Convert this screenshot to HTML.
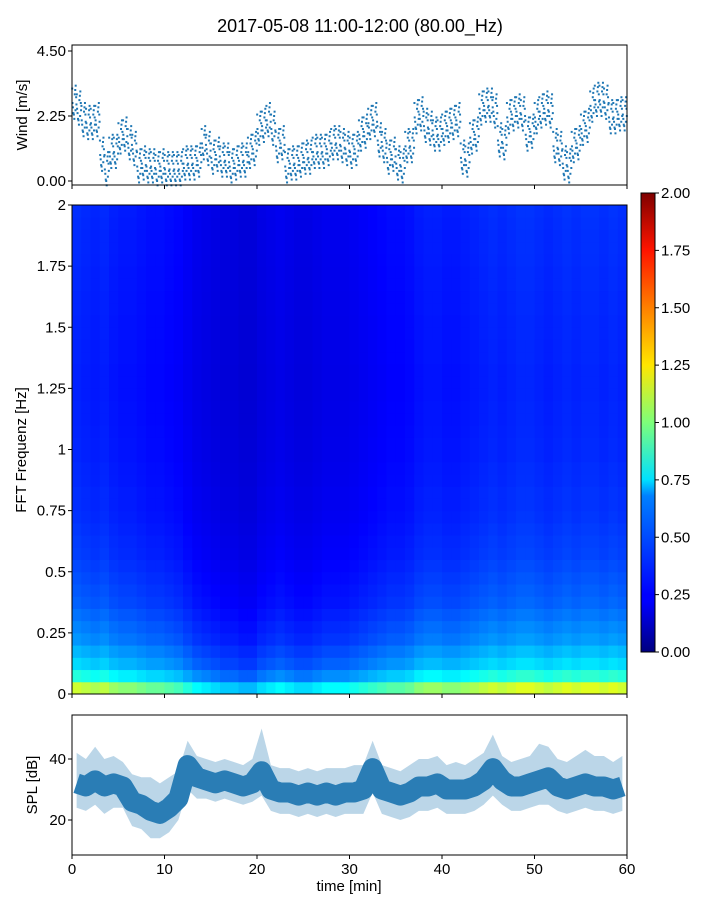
<!DOCTYPE html>
<html><head><meta charset="utf-8">
<style>
body{margin:0;background:#fff;font-family:"Liberation Sans",sans-serif;}
svg text{font-family:"Liberation Sans",sans-serif;fill:#000;}
</style></head>
<body>
<svg id="chart" width="720" height="900" xmlns="http://www.w3.org/2000/svg">
<defs>
<linearGradient id="jet" x1="0" y1="1" x2="0" y2="0">
<stop offset="0" stop-color="#00007f"/><stop offset="0.11" stop-color="#0000ff"/>
<stop offset="0.125" stop-color="#0000ff"/><stop offset="0.34" stop-color="#0080ff"/>
<stop offset="0.375" stop-color="#00e0ff"/><stop offset="0.5" stop-color="#7dff7a"/>
<stop offset="0.625" stop-color="#ffe600"/><stop offset="0.75" stop-color="#ff8000"/>
<stop offset="0.875" stop-color="#ff1400"/><stop offset="1" stop-color="#7f0000"/>
</linearGradient>
</defs>
<text x="360" y="32" font-size="18" text-anchor="middle">2017-05-08 11:00-12:00 (80.00_Hz)</text>
<g id="wind"></g>
<g id="spec"></g>
<g id="cbar"></g>
<g id="spl"></g>
</svg>
<script>
const windMinutes = 60;
const windValues = [2.7,2.5,2.1,2.0,2.0,2.1,0.9,0.4,1.0,1.0,1.5,1.6,1.3,1.1,0.5,0.6,0.5,0.5,0.4,0.5,0.4,0.4,0.4,0.4,0.6,0.6,0.6,0.7,1.3,1.1,0.8,0.9,0.7,0.7,0.5,0.6,0.7,0.7,1.0,1.1,1.8,1.9,2.1,1.8,1.2,1.3,0.5,0.6,0.6,0.7,0.8,0.8,1.0,1.0,1.0,1.1,1.3,1.3,1.2,1.1,1.0,1.1,1.6,1.7,2.0,2.1,1.4,1.2,0.8,0.9,0.6,0.5,1.2,1.2,2.2,2.3,1.9,1.8,1.6,1.6,1.8,1.9,2.0,2.1,0.8,0.7,1.5,1.6,2.5,2.6,2.6,2.4,1.4,1.3,2.2,2.3,2.4,2.3,1.6,1.7,2.2,2.4,2.5,2.4,1.2,1.1,0.6,0.5,1.2,1.3,1.8,1.9,2.6,2.8,2.8,2.7,2.2,2.2,2.3,2.3];
const windTicks = [0, 2.25, 4.5];
const windTickLabels = ["0.00","2.25","4.50"];
const specColumns = [0.34,0.33,0.32,0.33,0.31,0.30,0.30,0.29,0.28,0.28,0.27,0.26,0.24,0.22,0.21,0.20,0.19,0.19,0.18,0.18,0.20,0.21,0.22,0.21,0.20,0.20,0.21,0.22,0.22,0.22,0.23,0.24,0.25,0.26,0.27,0.27,0.28,0.30,0.31,0.31,0.30,0.30,0.31,0.32,0.33,0.34,0.33,0.34,0.35,0.35,0.34,0.33,0.34,0.35,0.34,0.35,0.35,0.34,0.35,0.34];
const specRowProfile = [3.4,2.4,2.0,1.8,1.6,1.5,1.4,1.3,1.25,1.2,1.15,1.1,1.08,1.05,1.02,1.0,1.0,0.98,0.97,0.95,0.95,0.94,0.93,0.93,0.92,0.92,0.92,0.93,0.93,0.94,0.94,0.95,0.95,0.96,0.96,0.97,0.98,0.98,0.99,1.0];
const specTicks = [0,0.25,0.5,0.75,1,1.25,1.5,1.75,2];
const specTickLabels = ["0","0.25","0.5","0.75","1","1.25","1.5","1.75","2"];
const cbarTicks = [0,0.25,0.5,0.75,1,1.25,1.5,1.75,2];
const cbarTickLabels = ["0.00","0.25","0.50","0.75","1.00","1.25","1.50","1.75","2.00"];
const splMean = [32,31,33,31,32,31,26,25,23,22,24,27,38,34,33,32,33,32,31,32,36,30,29,29,28,29,28,29,28,29,29,30,37,30,29,28,29,31,31,32,30,30,30,31,33,37,33,31,31,32,33,34,31,30,31,32,31,31,30,31];
const splLow = [24,23,25,22,24,24,18,17,14,14,16,20,30,27,27,26,27,26,25,26,28,23,22,22,21,22,21,22,21,22,22,22,29,22,21,20,21,23,23,24,22,22,22,23,25,28,25,23,23,24,25,25,23,22,23,24,23,23,22,23];
const splHigh = [42,40,44,40,41,39,35,34,34,32,34,36,46,41,40,39,40,39,38,40,50,38,37,37,36,37,36,37,37,37,38,38,46,38,37,36,38,40,40,41,38,39,38,40,42,48,41,39,40,41,45,44,40,39,41,43,41,41,39,41];
const splTicks = [20,40];
const xTicks = [0,10,20,30,40,50,60];

const NS="http://www.w3.org/2000/svg";
function mk(tag,attrs,parent){const e=document.createElementNS(NS,tag);for(const k in attrs)e.setAttribute(k,attrs[k]);parent.appendChild(e);return e;}
const X0=72,X1=627;
const xs=t=>X0+(X1-X0)*t/60;
function jet(v){v=Math.max(0,Math.min(1,v));
 const r=Math.max(0,Math.min(1,1.5-Math.abs(4*v-3))),g=Math.max(0,Math.min(1,1.5-Math.abs(4*v-2))),b=Math.max(0,Math.min(1,1.5-Math.abs(4*v-1)));
 return `rgb(${Math.round(r*255)},${Math.round(g*255)},${Math.round(b*255)})`;}

// Wind panel
const W=document.getElementById('wind');
const wy=v=>181-(181-51)*v/4.5;
const jx=[0.05,0.35,0.15,0.45,0.25,0.4,0.1,0.3,0.2,0.48,0.02,0.38];
const jy=[0.0,0.45,-0.35,0.2,-0.55,0.6,-0.15,0.3,-0.4,-0.05,0.5,-0.25];
for(let i=0;i<windValues.length;i++){
 const t=i*windMinutes/windValues.length;
 for(let k=0;k<jx.length;k++){
  const p=mk('rect',{x:xs(t+jx[k])-1,y:wy(windValues[i]+jy[k])-1,width:2,height:2,fill:'#1f77b4'},W);
  
  
 }
}
mk('rect',{x:X0,y:45,width:X1-X0,height:140,fill:'none',stroke:'#000','stroke-width':1},W);
windTicks.forEach((v,i)=>{mk('line',{x1:X0-4,x2:X0,y1:wy(v),y2:wy(v),stroke:'#000'},W);
 const t=mk('text',{x:X0-6,y:wy(v)+5,'font-size':15,'text-anchor':'end'},W);t.textContent=windTickLabels[i];
 });
xTicks.forEach(v=>mk('line',{x1:xs(v),x2:xs(v),y1:185,y2:189,stroke:'#000'},W));
{const t=mk('text',{x:27,y:115,'font-size':15,'text-anchor':'middle',transform:'rotate(-90 27 115)'},W);t.textContent='Wind [m/s]';}

// Spectrogram
const S=document.getElementById('spec');
const SY0=694,SY1=205;
const sy=f=>SY0-(SY0-SY1)*f/2;
const nr=specRowProfile.length,nc=specColumns.length;
for(let c=0;c<nc;c++)for(let r=0;r<nr;r++){
 const v=specColumns[c]*specRowProfile[r];
 const x=xs(c*60/nc),x2=xs((c+1)*60/nc),ya=sy((r+1)*2/nr),yb=sy(r*2/nr);
 const cell=mk('rect',{x:x,y:ya,width:x2-x+0.5,height:yb-ya+0.5,fill:jet(v/2)},S);
 
 
}
mk('rect',{x:X0,y:SY1,width:X1-X0,height:SY0-SY1,fill:'none',stroke:'#000'},S);
specTicks.forEach((v,i)=>{mk('line',{x1:X0-4,x2:X0,y1:sy(v),y2:sy(v),stroke:'#000'},S);
 const t=mk('text',{x:X0-6,y:sy(v)+5,'font-size':15,'text-anchor':'end'},S);t.textContent=specTickLabels[i];
 });
xTicks.forEach(v=>mk('line',{x1:xs(v),x2:xs(v),y1:SY0,y2:SY0+4,stroke:'#000'},S));
{const t=mk('text',{x:26,y:450,'font-size':15,'text-anchor':'middle',transform:'rotate(-90 26 450)'},S);t.textContent='FFT Frequenz [Hz]';}

// Colorbar
const C=document.getElementById('cbar');
const CY0=652,CY1=193;
const cy=v=>CY0-(CY0-CY1)*v/2;
mk('rect',{x:641,y:CY1,width:14,height:CY0-CY1,fill:'url(#jet)',stroke:'#000'},C);
cbarTicks.forEach((v,i)=>{mk('line',{x1:655,x2:659,y1:cy(v),y2:cy(v),stroke:'#000'},C);
 const t=mk('text',{x:661,y:cy(v)+5,'font-size':15},C);t.textContent=cbarTickLabels[i];
 });

// SPL panel
const P=document.getElementById('spl');
const py=v=>820-(820-759)*(v-20)/20;
let up='',dn='',mid='';
for(let i=0;i<splMean.length;i++){const t=(i+0.5)*60/splMean.length;
 up+=(i?'L':'M')+xs(t)+','+py(splHigh[i]);mid+=(i?'L':'M')+xs(t)+','+py(splMean[i]);}
for(let i=splLow.length-1;i>=0;i--){const t=(i+0.5)*60/splLow.length;dn+='L'+xs(t)+','+py(splLow[i]);}
{const a=mk('path',{d:up+dn+'Z',fill:'#1f77b4','fill-opacity':0.3},P);}
{const l=mk('path',{d:mid,fill:'none',stroke:'#2a7db5','stroke-width':20,'stroke-linejoin':'round'},P);}
mk('rect',{x:X0,y:715,width:X1-X0,height:140,fill:'none',stroke:'#000'},P);
splTicks.forEach(v=>{mk('line',{x1:X0-4,x2:X0,y1:py(v),y2:py(v),stroke:'#000'},P);
 const t=mk('text',{x:X0-6,y:py(v)+5,'font-size':15,'text-anchor':'end'},P);t.textContent=v;
 });
xTicks.forEach(v=>{mk('line',{x1:xs(v),x2:xs(v),y1:855,y2:859,stroke:'#000'},P);
 const t=mk('text',{x:xs(v),y:874,'font-size':15,'text-anchor':'middle'},P);t.textContent=v;
 });
{const t=mk('text',{x:37,y:785,'font-size':15,'text-anchor':'middle',transform:'rotate(-90 37 785)'},P);t.textContent='SPL [dB]';}
{const t=mk('text',{x:349,y:891,'font-size':15,'text-anchor':'middle'},P);t.textContent='time [min]';}
</script>
</body></html>
